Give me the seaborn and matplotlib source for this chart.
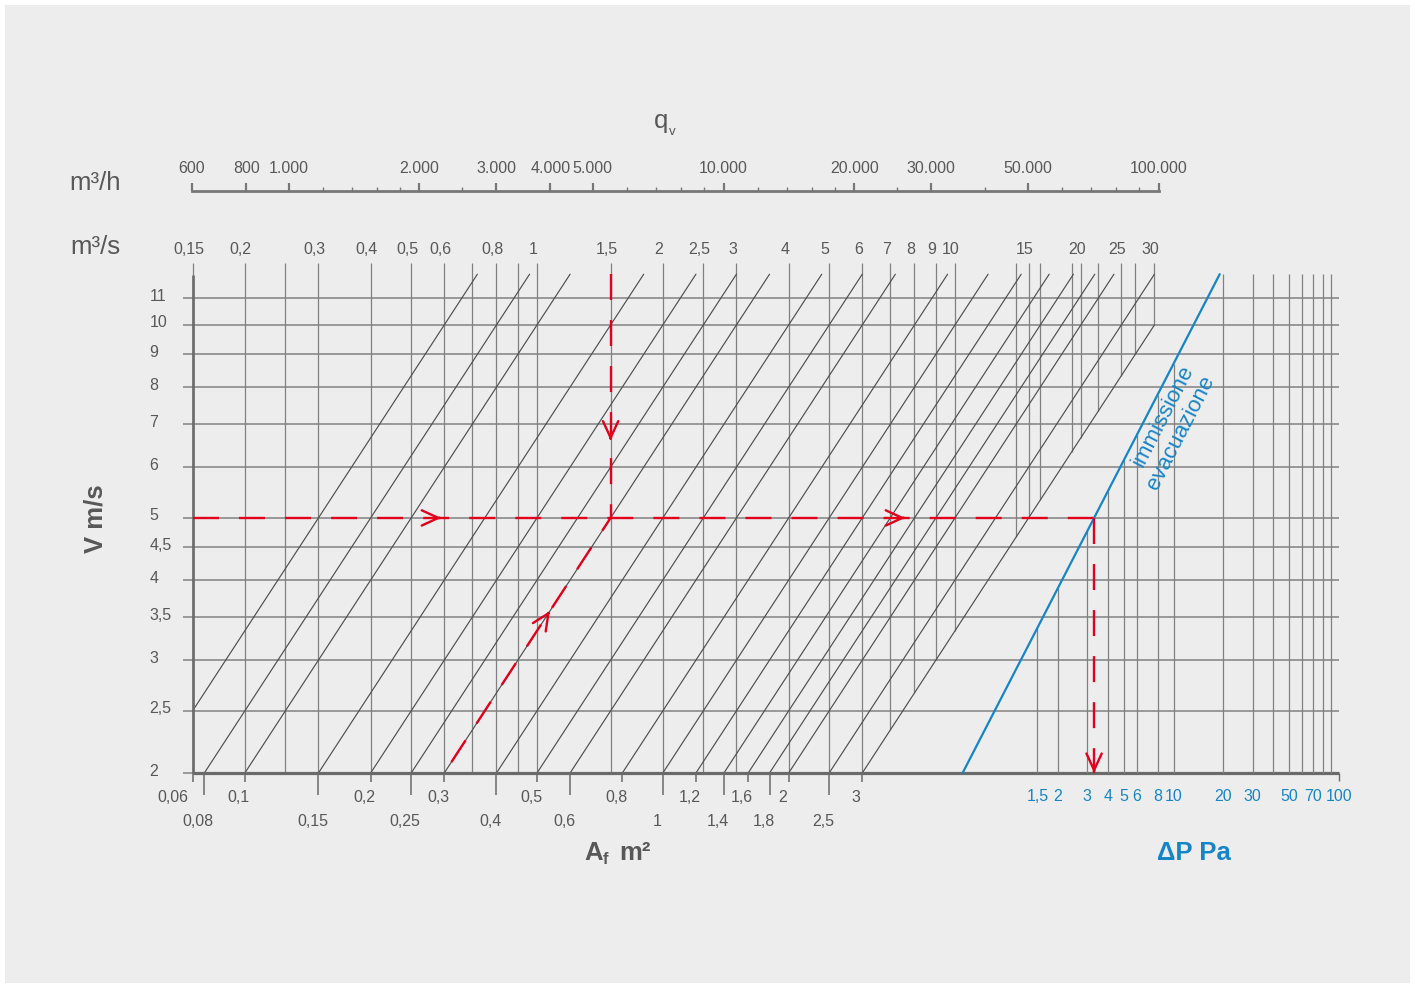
import matplotlib

matplotlib.use("Agg")
import matplotlib.pyplot as plt
from matplotlib import font_manager
from matplotlib.patches import Rectangle
import numpy as np
import pandas as pd
import seaborn as sns

# ---------------------------------------------------------------- data
flow_m3s_ticks = [0.15, 0.2, 0.3, 0.4, 0.5, 0.6, 0.8, 1, 1.5, 2, 2.5, 3, 4, 5, 6, 7, 8, 9, 10, 15, 20, 25, 30]
flow_m3s_grid = [0.15, 0.2, 0.25, 0.3, 0.4, 0.5, 0.6, 0.7, 0.8, 0.9, 1, 1.5, 2, 2.5, 3, 4, 5, 6, 7, 8, 9, 10,
                 14, 15, 16, 19, 20, 22, 25, 27, 30]
flow_m3h_major = [600, 800, 1000, 2000, 3000, 4000, 5000, 10000, 20000, 30000, 50000, 100000]
flow_m3h_minor = [1200, 1400, 1600, 1800, 2500, 6000, 7000, 8000, 9000, 12000, 14000, 16000, 18000,
                  25000, 40000, 60000, 70000, 80000, 90000]
velocity_ticks = [2, 2.5, 3, 3.5, 4, 4.5, 5, 6, 7, 8, 9, 10, 11]
velocity_range = [2, 12]
area_values = [0.06, 0.08, 0.1, 0.15, 0.2, 0.25, 0.3, 0.4, 0.5, 0.6, 0.8, 1, 1.2, 1.4, 1.6, 1.8, 2, 2.5, 3]
area_upper_row = [0.06, 0.1, 0.2, 0.3, 0.5, 0.8, 1.2, 1.6, 2, 3]
dp_grid = [1.5, 2, 3, 4, 5, 6, 8, 10, 20, 30, 40, 50, 60, 70, 80, 90]
dp_ticks = [1.5, 2, 3, 4, 5, 6, 8, 10, 20, 30, 50, 70, 100]
# blue line (immissione / evacuazione): pressure drop against velocity
blue_v = [2, 12]
blue_dp = [0.53, 19]
# worked example drawn in red
ex_flow = 1.5
ex_velocity = 5
ex_area = 0.3
ex_start_velocity = 2.08
arrow_h_flows = [0.59, 7.6]
arrow_v_velocity = 6.6
arrow_diag_velocity = 3.58

# ---------------------------------------------------------------- layout
W, H = 1415, 988
Q_PX1, Q_PPD = 537, 418        # x pixel of 1 m3/s, pixels per decade
V_PX2, V_PPD = 773, 641        # y pixel of 2 m/s, pixels per decade
DP_PX10, DP_PPD = 1173.6, 165.4
QH_PX600, QH_PPD = 192, 435
X0, X1, YT, YB = 150, 1380, 250, 795

GREY_TXT = "#585858"
GRID = "#818181"
DIAG = "#4f4f4f"
AXIS = "#6a6a6a"
RED = "#e2001a"
BLUE = "#1685c8"


def q_px(px):
    return 10 ** ((px - Q_PX1) / Q_PPD)


def v_py(py):
    return 2 * 10 ** ((V_PX2 - py) / V_PPD)


def dp_px(px):
    return 10 * 10 ** ((px - DP_PX10) / DP_PPD)


def qh_px(px):
    return 600 * 10 ** ((px - QH_PX600) / QH_PPD)


def fmt(v):
    return f"{v:g}".replace(".", ",")


sns.set_theme(style="white")
names = {f.name for f in font_manager.fontManager.ttflist}
FONT = "Liberation Sans Narrow" if "Liberation Sans Narrow" in names else "Liberation Sans"
plt.rcParams["font.family"] = [FONT, "DejaVu Sans"]
TS = 13.8 if FONT.endswith("Narrow") else 11.5
BIG = 18.5

fig = plt.figure(figsize=(W / 100, H / 100), dpi=100, facecolor="white")
fig.add_artist(Rectangle((5 / W, 5 / H), 1 - 10 / W, 1 - 10 / H, transform=fig.transFigure,
                         facecolor="#ededed", edgecolor="none", zorder=-10))


def px_axes(x0, x1, yt, yb):
    a = fig.add_axes([x0 / W, 1 - yb / H, (x1 - x0) / W, (yb - yt) / H])
    a.axis("off")
    return a


def ftext(px, py, s, **kw):
    kw.setdefault("color", GREY_TXT)
    fig.text(px / W, 1 - py / H, s, **kw)


ax = px_axes(X0, X1, YT, YB)
ax.set_xscale("log")
ax.set_yscale("log")
ax.set_xlim(q_px(X0), q_px(X1))
ax.set_ylim(v_py(YB), v_py(YT))

ax_dp = px_axes(X0, X1, YT, YB)
ax_dp.set_xscale("log")
ax_dp.set_yscale("log")
ax_dp.set_xlim(dp_px(X0), dp_px(X1))
ax_dp.set_ylim(v_py(YB), v_py(YT))

v_lo, v_hi = velocity_range
q_lo, q_hi = flow_m3s_grid[0], flow_m3s_grid[-1]
a_hi = area_values[-1]

# right end of the horizontal lines = dP 100 on the pressure axis
x_disp = ax_dp.transData.transform((dp_ticks[-1], v_lo))[0]
q_right = ax.transData.inverted().transform((x_disp, 0))[0]

# ---------------------------------------------------------------- grid
ax.hlines(velocity_ticks, q_px(183), q_right, color=GRID, lw=1.1, zorder=1)

q_grid = np.array(flow_m3s_grid)
ax.vlines(q_grid, np.maximum(v_lo, q_grid / a_hi), v_py(263), color=GRID, lw=0.9, zorder=1)

dp_arr = np.array(dp_grid)
dp_top = np.exp(np.interp(np.log(dp_arr), np.log(blue_dp), np.log(blue_v)))
ax_dp.vlines(dp_arr, v_lo, dp_top, color=GRID, lw=0.9, zorder=1)

# constant-area diagonals
rows = []
for a in area_values:
    v0 = max(v_lo, q_lo / a)
    v1 = min(v_hi, q_hi / a)
    rows += [{"area": a, "flow": a * v0, "velocity": v0}, {"area": a, "flow": a * v1, "velocity": v1}]
diag = pd.DataFrame(rows)
sns.lineplot(data=diag, x="flow", y="velocity", units="area", estimator=None, color=DIAG,
             lw=0.85, ax=ax, legend=False, zorder=2)
ax.set_xlim(q_px(X0), q_px(X1))
ax.set_ylim(v_py(YB), v_py(YT))
ax.axis("off")

# axes lines
ax.plot([q_lo, q_lo], [v_lo, v_py(275)], color=AXIS, lw=1.9, zorder=3, solid_capstyle="butt")
ax.plot([q_lo, q_right], [v_lo, v_lo], color=AXIS, lw=2.3, zorder=3, solid_capstyle="butt")
ax_dp.vlines(dp_ticks[-1], v_py(781), v_lo, color=AXIS, lw=1.0, zorder=3)

# blue pressure-drop line
ax_dp.plot(blue_dp, blue_v, color=BLUE, lw=1.6, zorder=4)
p0 = ax_dp.transData.transform((blue_dp[0], blue_v[0]))
p1 = ax_dp.transData.transform((blue_dp[1], blue_v[1]))
ang = np.degrees(np.arctan2(p1[1] - p0[1], p1[0] - p0[0]))

# ---------------------------------------------------------------- labels
for a in area_values:
    q = max(q_lo, 2 * a)
    upper = a in area_upper_row
    xoff = -6 if 2 * a >= q_lo else -20   # the clipped 0,06 foot sits left of the axis
    ax.vlines(q, v_py(782 if upper else 807), v_lo, color=AXIS, lw=1.1, zorder=3)
    ax.annotate(fmt(a), xy=(q, v_lo), xytext=(xoff, -24 if upper else -48), textcoords="offset pixels",
                ha="center", va="center", fontsize=TS, color=GREY_TXT)

for q in flow_m3s_ticks:
    ax.annotate(fmt(q), xy=(q, v_py(263)), xytext=(-4, 14), textcoords="offset pixels",
                ha="center", va="center", fontsize=TS, color=GREY_TXT)

for v in velocity_ticks:
    ax.annotate(fmt(v), xy=(q_lo, v), xytext=(-43, 2), textcoords="offset pixels",
                ha="left", va="center", fontsize=TS, color=GREY_TXT)

for d in dp_ticks:
    ax_dp.annotate(fmt(d), xy=(d, v_lo), xytext=(0, -23), textcoords="offset pixels",
                   ha="center", va="center", fontsize=TS, color=BLUE)

# top m3/h scale
ax_h = px_axes(X0, X1, 150, 200)
ax_h.set_xscale("log")
ax_h.set_xlim(qh_px(X0), qh_px(X1))
ax_h.set_ylim(200, 150)
ax_h.plot([flow_m3h_major[0], flow_m3h_major[-1]], [191, 191], color="#777777", lw=2.0,
          solid_capstyle="projecting")
ax_h.vlines(flow_m3h_major, 183, 191, color="#777777", lw=1.6)
ax_h.vlines(flow_m3h_minor, 187, 191, color="#777777", lw=1.0)
for v in flow_m3h_major:
    ax_h.text(v, 168, f"{v:,}".replace(",", "."), ha="center", va="center", fontsize=TS, color=GREY_TXT)

# ---------------------------------------------------------------- red example path
dash = dict(color=RED, lw=1.7, dashes=(11, 8.5), zorder=5)
dp_ex = float(np.exp(np.interp(np.log(ex_velocity), np.log(blue_v), np.log(blue_dp))))
xe = ax_dp.transData.transform((dp_ex, ex_velocity))[0]
q_end = ax.transData.inverted().transform((xe, 0))[0]

ax.plot([ex_flow, ex_flow], [v_hi, ex_velocity], **dash)
ax.plot([q_lo, q_end], [ex_velocity, ex_velocity], **dash)
ax.plot([ex_area * ex_start_velocity, ex_flow], [ex_start_velocity, ex_velocity], **dash)
ax_dp.plot([dp_ex, dp_ex], [ex_velocity, v_lo], **dash)

arrow = dict(arrowstyle="->,head_length=1.2,head_width=0.55", color=RED, lw=1.7,
             shrinkA=0, shrinkB=0, mutation_scale=10)
for qa in arrow_h_flows:
    ax.annotate("", xy=(qa, ex_velocity), xytext=(qa / 1.01, ex_velocity), arrowprops=arrow, zorder=6)
ax.annotate("", xy=(ex_flow, arrow_v_velocity), xytext=(ex_flow, arrow_v_velocity * 1.01),
            arrowprops=arrow, zorder=6)
ax.annotate("", xy=(ex_area * arrow_diag_velocity, arrow_diag_velocity),
            xytext=(ex_area * arrow_diag_velocity / 1.01, arrow_diag_velocity / 1.01),
            arrowprops=arrow, zorder=6)
ax_dp.annotate("", xy=(dp_ex, v_lo), xytext=(dp_ex, v_lo * 1.01), arrowprops=arrow, zorder=6)

# ---------------------------------------------------------------- titles
ftext(95, 183, "m³/h", fontsize=BIG, ha="center", va="center")
ftext(95, 247, "m³/s", fontsize=BIG, ha="center", va="center")
ftext(661, 121, "q", fontsize=BIG, ha="center", va="center")
ftext(672, 132, "v", fontsize=9.5, ha="center", va="center")
ftext(95, 519, "V m/s", fontsize=BIG, fontweight="bold", rotation=90, ha="center", va="center")
ftext(603, 853, "A", fontsize=BIG, fontweight="bold", ha="right", va="center")
ftext(603, 859, "f", fontsize=12, fontweight="bold", ha="left", va="center")
ftext(619, 853, "m²", fontsize=BIG, fontweight="bold", ha="left", va="center")
ftext(1194, 853, "ΔP Pa", fontsize=BIG, fontweight="bold", ha="center", va="center", color=BLUE)
ftext(1163, 416, "immissione", fontsize=16, rotation=ang, ha="center", va="center", color=BLUE,
      rotation_mode="anchor")
ftext(1181, 433, "evacuazione", fontsize=16, rotation=ang, ha="center", va="center", color=BLUE,
      rotation_mode="anchor")

fig.savefig("out.png", dpi=100, facecolor=fig.get_facecolor())
